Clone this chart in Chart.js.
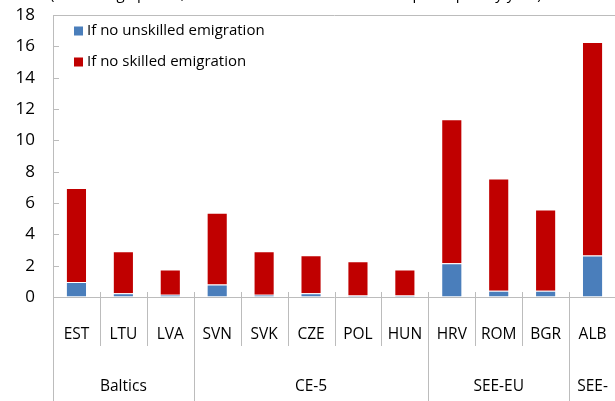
<!DOCTYPE html>
<html>
<head>
<meta charset="utf-8">
<script src="https://cdn.jsdelivr.net/npm/chart.js@4"></script>
<style>
  body { margin: 0; background: #fff; }
  #wrap { width: 615px; height: 401px; overflow: hidden; }
</style>
</head>
<body>
<div id="wrap"><canvas id="emigChart" width="625" height="401"></canvas></div>
<script>
/* Data */
const countries = ['EST', 'LTU', 'LVA', 'SVN', 'SVK', 'CZE', 'POL', 'HUN', 'HRV', 'ROM', 'BGR', 'ALB'];
const groupNames = ['Baltics', 'CE-5', 'SEE-EU', 'SEE-NEU'];
const groupSizes = [3, 5, 3, 1];
const unskilledValues = [0.95, 0.24, 0.15, 0.8, 0.15, 0.24, 0.1, 0.1, 2.15, 0.4, 0.4, 2.65];
const skilledValues = [6.0, 2.68, 1.6, 4.57, 2.77, 2.42, 2.18, 1.65, 9.2, 7.17, 5.18, 13.63];
const yTicks = [0, 2, 4, 6, 8, 10, 12, 14, 16, 18];
const titleText = '(Percentage points, difference from actual real GDP per capita by year)';

const FONT = "'Open Sans', 'Noto Sans', sans-serif";
const AXIS = '#bcbcbc';

Chart.defaults.font.family = FONT;
Chart.defaults.color = '#000';

// draws box, inside ticks, two-level category labels, legend and clipped title
const decorations = {
    id: 'decorations',
    afterDraw(chart) {
        const ctx = chart.ctx;
        const area = chart.chartArea;
        const x = chart.scales.x;
        const y = chart.scales.y;
        const n = countries.length;
        const w = x.width / n;
        ctx.save();
        ctx.strokeStyle = AXIS;
        ctx.lineWidth = 1;

        // plot box
        ctx.beginPath();
        ctx.moveTo(area.left, Math.round(area.top) + 0.5);
        ctx.lineTo(area.right, Math.round(area.top) + 0.5);
        ctx.moveTo(area.left, Math.round(area.bottom) + 0.5);
        ctx.lineTo(area.right, Math.round(area.bottom) + 0.5);
        ctx.moveTo(area.right - 0.5, area.top);
        ctx.lineTo(area.right - 0.5, area.bottom);
        ctx.stroke();

        // y tick marks pointing inwards
        ctx.beginPath();
        y.ticks.forEach(t => {
            const py = Math.round(y.getPixelForValue(t.value)) + 0.5;
            ctx.moveTo(area.left, py);
            ctx.lineTo(area.left + 6, py);
        });
        ctx.stroke();

        // category boundaries
        const groupEnds = [];
        let acc = 0;
        groupSizes.forEach(s => { acc += s; groupEnds.push(acc); });
        ctx.beginPath();
        for (let i = 0; i <= n; i++) {
            const px = Math.round(x.getPixelForValue(i) - w / 2) + 0.5;
            ctx.moveTo(px, area.bottom - 5);
            ctx.lineTo(px, area.bottom);
            const isGroup = i === 0 || groupEnds.includes(i);
            ctx.moveTo(px, area.bottom + 1);
            ctx.lineTo(px, isGroup ? chart.height : area.bottom + 49);
        }
        ctx.stroke();

        // country labels
        ctx.fillStyle = '#000';
        ctx.textAlign = 'center';
        ctx.textBaseline = 'middle';
        ctx.font = '15.5px ' + FONT;
        countries.forEach((c, i) => {
            ctx.fillText(c, x.getPixelForValue(i), area.bottom + 38);
        });

        // group labels
        let start = 0;
        groupNames.forEach((g, k) => {
            const end = start + groupSizes[k];
            const left = x.getPixelForValue(start) - w / 2;
            const right = x.getPixelForValue(end - 1) + w / 2;
            const cx = (left + right) / 2;
            let lines = [g];
            if (ctx.measureText(g).width > right - left - 4 && g.includes('-')) {
                const cut = g.indexOf('-') + 1;
                lines = [g.slice(0, cut), g.slice(cut)];
            }
            lines.forEach((l, j) => {
                ctx.fillText(l, cx, area.bottom + 90 + j * 22);
            });
            start = end;
        });

        // legend inside the plot
        ctx.textAlign = 'left';
        ctx.font = '15px ' + FONT;
        const legendOrder = [0, 1];
        legendOrder.forEach((d, j) => {
            const ds = chart.data.datasets[d];
            const cy = 31 + j * 31;
            ctx.fillStyle = ds.backgroundColor;
            ctx.fillRect(74, cy - 4.5, 9, 9);
            ctx.fillStyle = '#000';
            ctx.fillText(ds.label, 87, cy);
        });

        // title, mostly above the visible area
        ctx.textBaseline = 'alphabetic';
        ctx.font = '15px ' + FONT;
        ctx.fillText(titleText, 50, -1);
        ctx.restore();
    }
};

new Chart(document.getElementById('emigChart'), {
    type: 'bar',
    data: {
        labels: countries,
        datasets: [{
            label: 'If no unskilled emigration',
            data: unskilledValues,
            backgroundColor: '#4a7ebb',
            borderColor: 'rgba(255,255,255,0.3)',
            borderWidth: 1,
            categoryPercentage: 1,
            barPercentage: 0.45
        }, {
            label: 'If no skilled emigration',
            data: skilledValues,
            backgroundColor: '#c00000',
            borderColor: 'rgba(255,255,255,0.45)',
            borderWidth: 1,
            categoryPercentage: 1,
            barPercentage: 0.45
        }]
    },
    options: {
        responsive: false,
        animation: false,
        layout: { padding: { left: 0, top: 15, right: 9, bottom: 104 } },
        plugins: {
            legend: { display: false },
            tooltip: { enabled: false }
        },
        scales: {
            x: {
                stacked: true,
                display: false
            },
            y: {
                stacked: true,
                min: 0,
                max: 18,
                afterBuildTicks: (scale) => { scale.ticks = yTicks.map(v => ({ value: v })); },
                afterFit: (scale) => { scale.width = 53; },
                grid: { drawOnChartArea: false, drawTicks: true, tickLength: 18, color: 'rgba(0,0,0,0)' },
                border: { display: true, color: AXIS },
                ticks: {
                    padding: 0,
                    color: '#000',
                    font: { size: 17 }
                }
            }
        }
    },
    plugins: [decorations]
});
</script>
</body>
</html>
